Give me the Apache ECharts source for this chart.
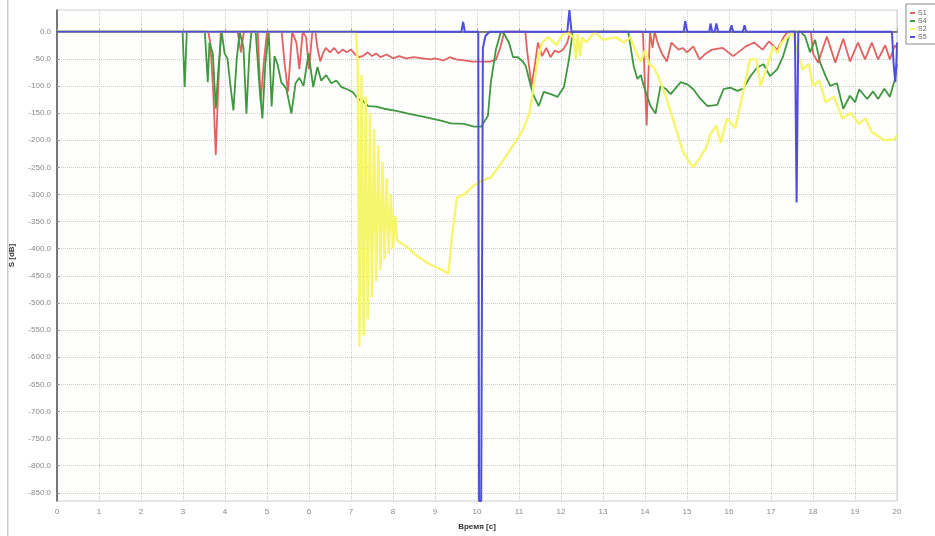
<!DOCTYPE html>
<html><head><meta charset="utf-8">
<script src="https://cdn.jsdelivr.net/npm/echarts@6/dist/echarts.min.js"></script>
<style>html,body{margin:0;padding:0;background:#fff}#c{width:935px;height:536px}</style>
</head><body><div id="c"></div>
<script>
const seriesNames = ['S1', 'S4', 'S2', 'S5'];
const xTicks = [0,1,2,3,4,5,6,7,8,9,10,11,12,13,14,15,16,17,18,19,20];
const yTicks = [0,-50,-100,-150,-200,-250,-300,-350,-400,-450,-500,-550,-600,-650,-700,-750,-800,-850];

const s1 = [[0,0],[3.6,0],[3.65,-20],[3.72,-110],[3.78,-227],[3.84,-100],[3.9,0],[4.3,0],[4.38,-38],[4.45,0],[4.78,0],[4.85,-130],[4.92,-60],[5.0,0],[5.35,0],[5.42,-60],[5.5,-110],[5.6,0],[5.7,-20],[5.77,-69],[5.85,0],[5.93,-10],[6.0,-69],[6.08,0],[6.15,0],[6.2,-30],[6.27,-55],[6.33,-40],[6.4,-30],[6.5,-38],[6.6,-30],[6.7,-40],[6.8,-33],[6.9,-38],[7.0,-33],[7.1,-42],[7.2,-47],[7.3,-44],[7.4,-38],[7.5,-45],[7.6,-40],[7.7,-47],[7.85,-42],[8.0,-49],[8.15,-45],[8.3,-49],[8.5,-47],[8.7,-49],[8.9,-51],[9.0,-49],[9.2,-53],[9.35,-47],[9.5,-51],[9.7,-53],[9.9,-55],[10.1,-55],[10.3,-55],[10.45,-52],[10.55,-30],[10.65,0],[11.15,0],[11.2,-40],[11.3,-100],[11.38,-60],[11.45,-20],[11.55,-45],[11.65,-30],[11.75,-47],[11.85,-35],[11.95,-38],[12.05,-33],[12.15,-20],[12.22,0],[13.95,0],[14.0,-100],[14.04,-173],[14.08,-80],[14.12,0],[14.18,-30],[14.23,0],[14.3,-20],[14.4,-40],[14.52,-55],[14.63,-20],[14.8,-33],[14.9,-30],[15.0,-38],[15.15,-27],[15.3,-51],[15.45,-40],[15.6,-33],[15.85,-30],[16.1,-45],[16.4,-27],[16.6,-20],[16.8,-33],[16.95,-18],[17.15,-33],[17.3,-10],[17.4,0],[17.95,0],[18.0,-40],[18.12,-57],[18.33,-9],[18.53,-57],[18.72,-13],[18.88,-55],[19.07,-20],[19.24,-51],[19.4,-20],[19.55,-51],[19.72,-25],[19.83,-51],[19.95,-25],[20,-30]];

const s4 = [[0,0],[2.99,0],[3.04,-102],[3.09,0],[3.52,0],[3.59,-93],[3.63,-20],[3.71,-40],[3.78,-142],[3.85,-60],[3.92,0],[3.99,-40],[4.06,-50],[4.13,-100],[4.2,-145],[4.28,-50],[4.35,0],[4.44,-30],[4.51,-151],[4.58,-40],[4.63,0],[4.73,0],[4.82,-100],[4.89,-160],[4.96,-60],[5.04,0],[5.11,-138],[5.18,-45],[5.25,-60],[5.34,-93],[5.46,-105],[5.58,-151],[5.68,-95],[5.77,-85],[5.87,-100],[5.99,-40],[6.1,-102],[6.2,-65],[6.29,-90],[6.41,-80],[6.53,-95],[6.65,-90],[6.77,-102],[6.94,-107],[7.05,-112],[7.17,-124],[7.29,-128],[7.41,-137],[7.6,-138],[7.79,-142],[8.08,-146],[8.36,-151],[8.74,-157],[9.14,-164],[9.38,-169],[9.69,-170],[9.93,-175],[10.1,-175],[10.26,-155],[10.33,-93],[10.45,-33],[10.57,0],[10.64,-3],[10.76,-20],[10.86,-47],[10.97,-47],[11.09,-55],[11.16,-63],[11.28,-100],[11.35,-118],[11.47,-137],[11.59,-111],[11.76,-115],[11.92,-120],[12.07,-102],[12.19,-51],[12.28,0],[13.6,0],[13.73,-63],[13.82,-87],[13.9,-80],[13.97,-100],[14.13,-137],[14.25,-151],[14.37,-100],[14.49,-105],[14.61,-115],[14.85,-93],[15.01,-97],[15.15,-106],[15.32,-124],[15.49,-137],[15.72,-135],[15.87,-106],[16.03,-103],[16.2,-109],[16.34,-105],[16.51,-82],[16.67,-66],[16.82,-60],[16.98,-82],[17.15,-69],[17.29,-45],[17.46,0],[17.7,0],[17.81,-8],[17.93,-38],[18.05,-15],[18.17,-57],[18.3,-82],[18.41,-100],[18.57,-95],[18.72,-142],[18.88,-118],[19.0,-130],[19.1,-106],[19.29,-124],[19.43,-110],[19.55,-124],[19.7,-105],[19.83,-120],[19.95,-88],[20,-60]];

const s2 = [[0,0],[7.12,0],[7.16,-60],[7.2,-580],[7.25,-80],[7.3,-560],[7.35,-120],[7.4,-530],[7.45,-150],[7.5,-490],[7.55,-180],[7.6,-460],[7.65,-210],[7.7,-440],[7.75,-240],[7.8,-420],[7.85,-270],[7.9,-410],[7.95,-300],[8.0,-400],[8.05,-340],[8.1,-385],[8.3,-395],[8.6,-415],[8.9,-430],[9.2,-440],[9.32,-446],[9.4,-380],[9.52,-306],[9.7,-300],[9.9,-285],[10.1,-275],[10.33,-269],[10.6,-240],[10.9,-205],[11.1,-180],[11.25,-150],[11.35,-100],[11.45,-50],[11.55,-20],[11.7,-10],[11.9,-25],[12.0,-10],[12.1,0],[12.3,-10],[12.35,-50],[12.4,-5],[12.45,-45],[12.5,-10],[12.6,-20],[12.8,0],[13.0,-15],[13.3,-10],[13.5,-20],[13.65,-10],[13.8,-40],[13.9,-55],[14.0,-35],[14.1,-60],[14.2,-65],[14.3,-80],[14.5,-120],[14.7,-170],[14.9,-220],[15.05,-240],[15.15,-250],[15.3,-233],[15.45,-215],[15.55,-190],[15.7,-173],[15.8,-205],[15.95,-160],[16.15,-178],[16.3,-124],[16.5,-51],[16.65,-51],[16.75,-100],[16.9,-67],[17.05,-27],[17.15,-40],[17.25,-20],[17.4,-10],[17.5,0],[17.75,-70],[17.9,-60],[18.0,-100],[18.15,-90],[18.3,-130],[18.5,-120],[18.7,-160],[18.9,-150],[19.1,-170],[19.25,-160],[19.4,-185],[19.7,-200],[19.95,-198],[20,-190]];

const s5 = [[0,0],[9.63,0],[9.67,18],[9.71,0],[10.03,0],[10.05,-865],[10.1,-865],[10.14,-30],[10.2,-8],[10.3,0],[12.15,0],[12.2,40],[12.25,0],[14.92,0],[14.96,20],[15.0,0],[15.53,0],[15.56,15],[15.6,0],[15.66,0],[15.7,15],[15.74,0],[16.02,0],[16.06,12],[16.1,0],[16.33,0],[16.37,12],[16.41,0],[17.57,0],[17.61,-315],[17.65,0],[19.88,0],[19.92,-60],[19.96,-93],[19.99,-50],[20,-20]];

const colors = ['#e26262', '#3f983f', '#f7f56c', '#4f4fdc'];
const widths = [1.8, 1.8, 2.4, 2];
const dataSets = [s1, s4, s2, s5];

const chart = echarts.init(document.getElementById('c'), null, {renderer: 'canvas'});
chart.setOption({
  animation: false,
  backgroundColor: '#ffffff',
  graphic: [{type: 'rect', left: 7, top: 0, shape: {width: 1.5, height: 536}, style: {fill: '#c5cad6'}}],
  grid: {left: 56, right: 38, top: 10, bottom: 30, show: true, borderColor: '#cfcfcf', borderWidth: 1, backgroundColor: '#fefefc'},
  legend: {
    orient: 'vertical', left: 906, top: 4, padding: [5, 14, 3, 4], itemGap: 0,
    itemWidth: 5, itemHeight: 2, icon: 'rect',
    borderColor: '#888', borderWidth: 1, backgroundColor: '#fff',
    textStyle: {fontSize: 7, color: '#666', lineHeight: 8, padding: [0, 0, 0, -2]},
    data: seriesNames
  },
  xAxis: {
    type: 'value', min: 0, max: 20, interval: 1,
    name: 'Время [с]', nameLocation: 'middle', nameGap: 22,
    nameTextStyle: {fontSize: 8, fontWeight: 'bold', color: '#333'},
    axisLine: {lineStyle: {color: '#555', width: 1.5}},
    axisTick: {inside: true, length: 3, lineStyle: {color: '#999'}},
    axisLabel: {fontSize: 8, color: '#888', margin: 7, formatter: v => xTicks.includes(v) ? String(v) : ''},
    splitLine: {show: true, lineStyle: {color: '#cccccc', type: 'dotted'}}
  },
  yAxis: {
    type: 'value', min: -865, max: 40,
    name: 'S [dB]', nameLocation: 'middle', nameGap: 41,
    nameTextStyle: {fontSize: 8, fontWeight: 'bold', color: '#333'},
    axisLine: {show: true, onZero: false, lineStyle: {color: '#555', width: 1.5}},
    axisTick: {show: true, inside: true, length: 3, customValues: yTicks, lineStyle: {color: '#999'}},
    axisLabel: {fontSize: 8, color: '#888', margin: 6, customValues: yTicks, formatter: v => v.toFixed(1)},
    splitLine: {show: true, lineStyle: {color: '#cccccc', type: 'dotted'}}
  },
  series: dataSets.map((d, i) => ({
    name: seriesNames[i], type: 'line', data: d, symbol: 'none', clip: true,
    color: colors[i],
    lineStyle: {color: colors[i], width: widths[i]}
  }))
});
</script></body></html>
